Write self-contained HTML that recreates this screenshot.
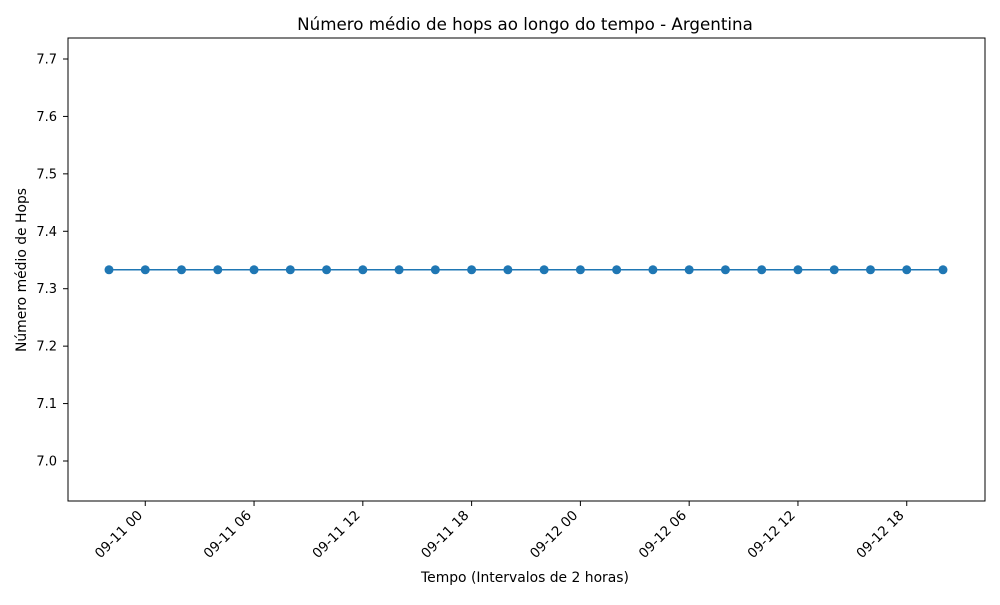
<!DOCTYPE html>
<html><head><meta charset="utf-8">
<style>
body{margin:0;background:#fff;}
svg text{font-family:"DejaVu Sans","Liberation Sans",sans-serif;fill:#000;}
</style></head>
<body>
<svg id="chart" width="1000" height="600" xmlns="http://www.w3.org/2000/svg">
<rect width="1000" height="600" fill="#fff"/>
<text x="525" y="30" font-size="16.7" text-anchor="middle">Número médio de hops ao longo do tempo - Argentina</text>
<text x="525" y="582" font-size="13.9" text-anchor="middle">Tempo (Intervalos de 2 horas)</text>
<text transform="translate(26,270) rotate(-90)" font-size="13.9" text-anchor="middle">Número médio de Hops</text>
<g id="axes"></g>
<g id="series"></g>
<rect x="68" y="38" width="917" height="463" fill="none" stroke="#000" stroke-width="1"/>
</svg>
<script>
// data: hours offset from 09-10 22:00, 2-hour intervals
const times = [0,2,4,6,8,10,12,14,16,18,20,22,24,26,28,30,32,34,36,38,40,42,44,46];
const values = [7.333,7.333,7.333,7.333,7.333,7.333,7.333,7.333,7.333,7.333,7.333,7.333,7.333,7.333,7.333,7.333,7.333,7.333,7.333,7.333,7.333,7.333,7.333,7.333];
const yTicks = [7.0,7.1,7.2,7.3,7.4,7.5,7.6,7.7];
const xTickHours = [2,8,14,20,26,32,38,44];
const xTickLabels = ["09-11 00","09-11 06","09-11 12","09-11 18","09-12 00","09-12 06","09-12 12","09-12 18"];

const NS="http://www.w3.org/2000/svg";
const x0=109, x1=943;
const tMin=Math.min(...times), tMax=Math.max(...times);
const xs=t=>x0+(t-tMin)/(tMax-tMin)*(x1-x0);
const ys=v=>461-(v-7.0)*574.3;
const axes=document.getElementById('axes');
const ser=document.getElementById('series');
function mk(tag,attrs,parent){const e=document.createElementNS(NS,tag);for(const k in attrs)e.setAttribute(k,attrs[k]);parent.appendChild(e);return e;}

yTicks.forEach(v=>{
  const y=ys(v);
  const l=mk('line',{x1:63,x2:68,y1:y,y2:y,stroke:'#000'},axes);
  
  
  const t=mk('text',{x:57,y:y+4.5,'font-size':13,'text-anchor':'end'},axes);
  t.textContent=v.toFixed(1);
  
  
});
xTickHours.forEach((h,i)=>{
  const x=xs(h);
  const l=mk('line',{x1:x,x2:x,y1:501,y2:506,stroke:'#000'},axes);
  
  
  const t=mk('text',{transform:`translate(${x-2},${516}) rotate(-45)`,'font-size':13.5,'text-anchor':'end'},axes);
  t.textContent=xTickLabels[i];
  
  
});
const pts=times.map((t,i)=>xs(t)+','+ys(values[i])).join(' ');
const pl=mk('polyline',{points:pts,fill:'none',stroke:'#1f77b4','stroke-width':1.5},ser);


times.forEach((t,i)=>{
  const c=mk('circle',{cx:xs(t),cy:ys(values[i]),r:4.5,fill:'#1f77b4'},ser);
  
  
});
</script>
</body></html>
